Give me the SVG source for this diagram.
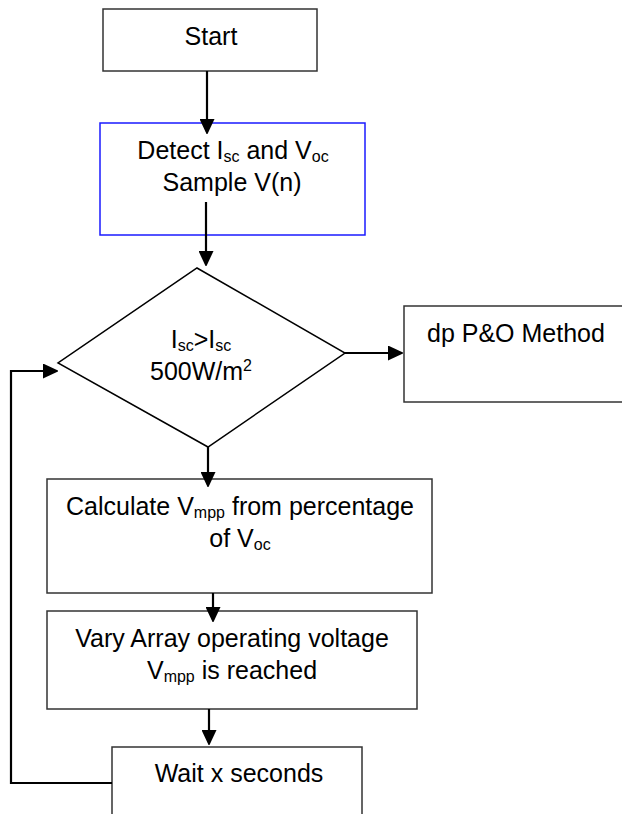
<svg xmlns="http://www.w3.org/2000/svg" width="622" height="814" viewBox="0 0 622 814">
<style>
text{font-family:"Liberation Sans",Arial,sans-serif;font-size:25px;fill:#000}
.c{text-anchor:middle}
.sub{font-size:16px}
.box{fill:#fff;stroke:#333;stroke-width:1.5}
.blue{fill:#fff;stroke:#1a1aff;stroke-width:1.5}
.conn{fill:none;stroke:#000;stroke-width:2.2}
</style>
<defs>
<marker id="ah" markerUnits="userSpaceOnUse" markerWidth="15" markerHeight="15" refX="13" refY="7.5" orient="auto">
<path d="M0,0 L16,7.5 L0,15 z" fill="#000"/>
</marker>
</defs>
<rect width="622" height="814" fill="#fff"/>
<g id="start">
<rect class="box" x="103" y="9" width="214" height="62"/>
<text class="c" x="211" y="45">Start</text>
</g>
<g id="detect">
<rect class="blue" x="100" y="123" width="265" height="112"/>
<text class="c" x="233" y="159">Detect I<tspan class="sub" dy="3">sc</tspan><tspan dy="-3"> and V</tspan><tspan class="sub" dy="3">oc</tspan></text>
<text class="c" x="232" y="191">Sample V(n)</text>
</g>
<g id="decision">
<polygon class="box" points="197,268 345,353 208,447 58,363" style="stroke:#000"/>
<text class="c" x="201" y="348">I<tspan class="sub" dy="3">sc</tspan><tspan dy="-3">&gt;I</tspan><tspan class="sub" dy="3">sc</tspan></text>
<text class="c" x="201" y="380">500W/m<tspan class="sub" dy="-9">2</tspan></text>
</g>
<g id="dp">
<rect class="box" x="404" y="306" width="230" height="96"/>
<text x="427" y="342">dp P&amp;O Method</text>
</g>
<g id="calc">
<rect class="box" x="47" y="479" width="385" height="114"/>
<text class="c" x="240" y="515">Calculate V<tspan class="sub" dy="3">mpp</tspan><tspan dy="-3"> from percentage</tspan></text>
<text class="c" x="240" y="547">of V<tspan class="sub" dy="3">oc</tspan></text>
</g>
<g id="vary">
<rect class="box" x="47" y="611" width="370" height="98"/>
<text class="c" x="232" y="647">Vary Array operating voltage</text>
<text class="c" x="232" y="679">V<tspan class="sub" dy="3">mpp</tspan><tspan dy="-3"> is reached</tspan></text>
</g>
<g id="wait">
<rect class="box" x="112" y="747" width="250" height="80"/>
<text class="c" x="239" y="782">Wait x seconds</text>
</g>
<g id="connectors">
<path class="conn" d="M207,71 V132" marker-end="url(#ah)"/>
<path class="conn" d="M206,202 V264" marker-end="url(#ah)"/>
<path class="conn" d="M345,353 H401" marker-end="url(#ah)"/>
<path class="conn" d="M208,447 V485" marker-end="url(#ah)"/>
<path class="conn" d="M213,593 V620" marker-end="url(#ah)"/>
<path class="conn" d="M209,709 V743" marker-end="url(#ah)"/>
<path class="conn" d="M112,783 H11 V371 H56" marker-end="url(#ah)"/>
</g>
</svg>
